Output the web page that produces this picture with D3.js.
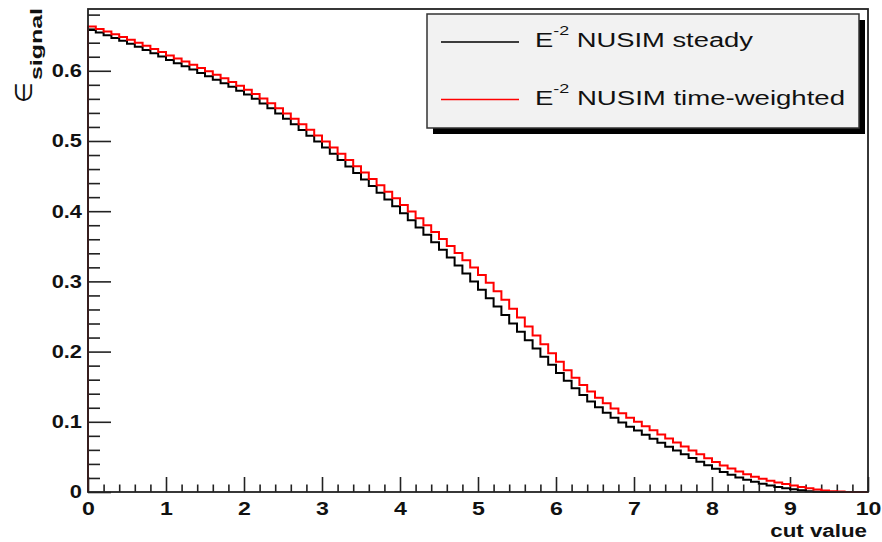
<!DOCTYPE html>
<html>
<head>
<meta charset="utf-8">
<script src="https://cdn.jsdelivr.net/npm/d3@7"></script>
<style>
body { margin: 0; background: #fff; }
text { font-family: "Liberation Sans", Arial, Helvetica, sans-serif; }
</style>
</head>
<body>
<script>
// signal efficiency vs cut value, 100 bins from 0 to 10
var binWidth = 0.1;

var steady = [
  0.658, 0.6545, 0.6507, 0.6467, 0.6426, 0.6384, 0.6341, 0.6296, 0.625, 0.6202,
  0.6152, 0.6108, 0.6063, 0.6017, 0.597, 0.5922, 0.5873, 0.5823, 0.5771, 0.5717,
  0.5661, 0.560, 0.5535, 0.5465, 0.5392, 0.5316, 0.5238, 0.5158, 0.5076, 0.4992,
  0.4906, 0.4818, 0.4728, 0.4637, 0.4545, 0.4452, 0.4358, 0.4263, 0.4167, 0.407,
  0.3972, 0.387, 0.3768, 0.3664, 0.3558, 0.345, 0.334, 0.3228, 0.3114, 0.2998,
  0.288, 0.2761, 0.2641, 0.2521, 0.2401, 0.2281, 0.2162, 0.2044, 0.1927, 0.1811,
  0.1696, 0.1584, 0.1479, 0.1381, 0.129, 0.1206, 0.1128, 0.1056, 0.099, 0.093,
  0.0875, 0.0817, 0.0759, 0.0702, 0.0646, 0.0591, 0.0537, 0.0484, 0.0432, 0.0381,
  0.0331, 0.0286, 0.0245, 0.0208, 0.0175, 0.0145, 0.0118, 0.0094, 0.0073, 0.0055,
  0.004, 0.0025, 0.0012, 0.0004, 0, 0, 0, 0, 0, 0
];

var timeWeighted = [
  0.663, 0.6596, 0.656, 0.6522, 0.6482, 0.6441, 0.6399, 0.6356, 0.6312, 0.6266,
  0.6218, 0.6175, 0.6131, 0.6086, 0.604, 0.5992, 0.5943, 0.5893, 0.5841, 0.5787,
  0.573, 0.567, 0.5606, 0.5538, 0.5467, 0.5393, 0.5317, 0.5239, 0.5159, 0.5077,
  0.4993, 0.4907, 0.4819, 0.473, 0.464, 0.455, 0.4459, 0.4368, 0.4276, 0.4183,
  0.4089, 0.3994, 0.3898, 0.3801, 0.3703, 0.3604, 0.3504, 0.3403, 0.3301, 0.3197,
  0.3091, 0.2979, 0.2861, 0.2738, 0.2612, 0.2484, 0.2356, 0.2229, 0.2103, 0.1978,
  0.1854, 0.1736, 0.1626, 0.1524, 0.143, 0.1343, 0.1263, 0.1189, 0.1121, 0.1058,
  0.1, 0.0938, 0.0878, 0.0819, 0.0761, 0.0704, 0.0647, 0.0591, 0.0536, 0.0482,
  0.0429, 0.0379, 0.0333, 0.0291, 0.0253, 0.0219, 0.0188, 0.016, 0.0135, 0.0113,
  0.0094, 0.0072, 0.0053, 0.0036, 0.0022, 0.0012, 0.0006, 0, 0, 0
];

var xTicks = [0, 1, 2, 3, 4, 5, 6, 7, 8, 9, 10];
var yTicks = [0, 0.1, 0.2, 0.3, 0.4, 0.5, 0.6];
var yTickLabels = ["0", "0.1", "0.2", "0.3", "0.4", "0.5", "0.6"];
var legendNames = ["NUSIM steady", "NUSIM time-weighted"];
var legendColors = ["#000000", "#ff0000"];

var W = 882, H = 542;
var margin = {top: 9, right: 14, bottom: 50, left: 88},
    width = W - margin.left - margin.right,
    height = H - margin.top - margin.bottom;

var x = d3.scaleLinear().domain([0, 10]).range([0, width]);
var y = d3.scaleLinear().domain([0, 0.688]).range([height, 0]);

var svg = d3.select("body").append("svg")
    .attr("width", W)
    .attr("height", H)
  .append("g")
    .attr("transform", "translate(" + margin.left + "," + margin.top + ")");

// stretch text horizontally like the original canvas
function widen(sel, f) {
  sel.each(function() {
    var t = d3.select(this);
    t.attr("textLength", this.getComputedTextLength() * f)
     .attr("lengthAdjust", "spacingAndGlyphs");
  });
}

// minor ticks
var xMinor = d3.range(0, 50).map(function(i) { return i * 0.2; }).filter(function(v) { return Math.abs(v - Math.round(v)) > 1e-6; });
var yMinor = d3.range(0, 35).map(function(i) { return i * 0.02; }).filter(function(v) { return Math.abs(v * 10 - Math.round(v * 10)) > 1e-6; });

var xMin = svg.append("g")
  .attr("transform", "translate(0," + height + ")")
  .call(d3.axisBottom(x).tickValues(xMinor).tickSize(-7.5).tickSizeOuter(0).tickFormat(""));
var xMaj = svg.append("g")
  .attr("transform", "translate(0," + height + ")")
  .call(d3.axisBottom(x).tickValues(xTicks).tickSize(-15).tickSizeOuter(0).tickPadding(10).tickFormat(d3.format("d")));
var yMin = svg.append("g")
  .call(d3.axisLeft(y).tickValues(yMinor).tickSize(-12).tickSizeOuter(0).tickFormat(""));
var yMaj = svg.append("g")
  .call(d3.axisLeft(y).tickValues(yTicks).tickSize(-23).tickSizeOuter(0).tickPadding(6)
        .tickFormat(function(d, i) { return yTickLabels[i]; }));

[xMin, xMaj, yMin, yMaj].forEach(function(g) {
  g.select(".domain").remove();
  g.selectAll("line").attr("stroke", "#222").attr("stroke-width", 1.6);
  g.selectAll("text")
    .attr("fill", "#111")
    .style("font-size", "18.5px")
    .style("font-weight", "bold")
    .style("font-family", "'Liberation Sans', Arial, sans-serif");
});
widen(xMaj.selectAll("text"), 1.25);
widen(yMaj.selectAll("text"), 1.18);

// histograms
var line = d3.line()
  .x(function(d) { return x(d[0]); })
  .y(function(d) { return y(d[1]); })
  .curve(d3.curveStepAfter);

function histPoints(vals) {
  var pts = [[0, 0]];
  vals.forEach(function(v, i) { pts.push([i * binWidth, v]); });
  pts.push([vals.length * binWidth, vals[vals.length - 1]]);
  return pts;
}

[steady, timeWeighted].forEach(function(vals, i) {
  svg.append("path")
    .datum(histPoints(vals))
    .attr("fill", "none")
    .attr("stroke", legendColors[i])
    .attr("stroke-width", 2)
    .attr("d", line);
});

// frame
svg.append("rect")
  .attr("x", 0).attr("y", 0)
  .attr("width", width).attr("height", height)
  .attr("fill", "none")
  .attr("stroke", "#222")
  .attr("stroke-width", 1.8);

// axis titles
var xt = svg.append("text")
  .attr("x", width - 1)
  .attr("y", height + 45)
  .attr("text-anchor", "end")
  .style("font-size", "18px")
  .style("font-weight", "bold")
  .attr("fill", "#111")
  .text("cut value");
widen(xt, 1.24);

var root = d3.select("svg");
root.append("text")
  .attr("transform", "translate(32,103) rotate(-90)")
  .attr("fill", "#111")
  .style("font-size", "24px")
  .style("font-family", "'DejaVu Sans', sans-serif")
  .text("\u2208");
root.append("text")
  .attr("transform", "translate(42,80) rotate(-90)")
  .attr("fill", "#111")
  .style("font-size", "17px")
  .style("font-weight", "bold")
  .attr("textLength", 72)
  .attr("lengthAdjust", "spacingAndGlyphs")
  .text("signal");

// legend
var lg = root.append("g");
lg.append("rect")
  .attr("x", 433).attr("y", 20)
  .attr("width", 432).attr("height", 114)
  .attr("fill", "#000");
lg.append("rect")
  .attr("x", 427).attr("y", 14)
  .attr("width", 432).attr("height", 114)
  .attr("fill", "#f2f2f2")
  .attr("stroke", "#333")
  .attr("stroke-width", 1.5);

var legendY = [42, 99.5];
var legendLen = [218, 310];
legendNames.forEach(function(name, i) {
  lg.append("line")
    .attr("x1", 441).attr("x2", 519)
    .attr("y1", legendY[i]).attr("y2", legendY[i])
    .attr("stroke", legendColors[i])
    .attr("stroke-width", 1.6);
  var t = lg.append("text")
    .attr("x", 535)
    .attr("y", legendY[i] + 5)
    .attr("fill", "#111")
    .style("font-size", "20px")
    .attr("textLength", legendLen[i])
    .attr("lengthAdjust", "spacingAndGlyphs");
  t.append("tspan").text("E");
  t.append("tspan").attr("dy", -12).style("font-size", "13px").text("-2");
  t.append("tspan").attr("dy", 12).text(" " + name);
});
</script>
</body>
</html>
